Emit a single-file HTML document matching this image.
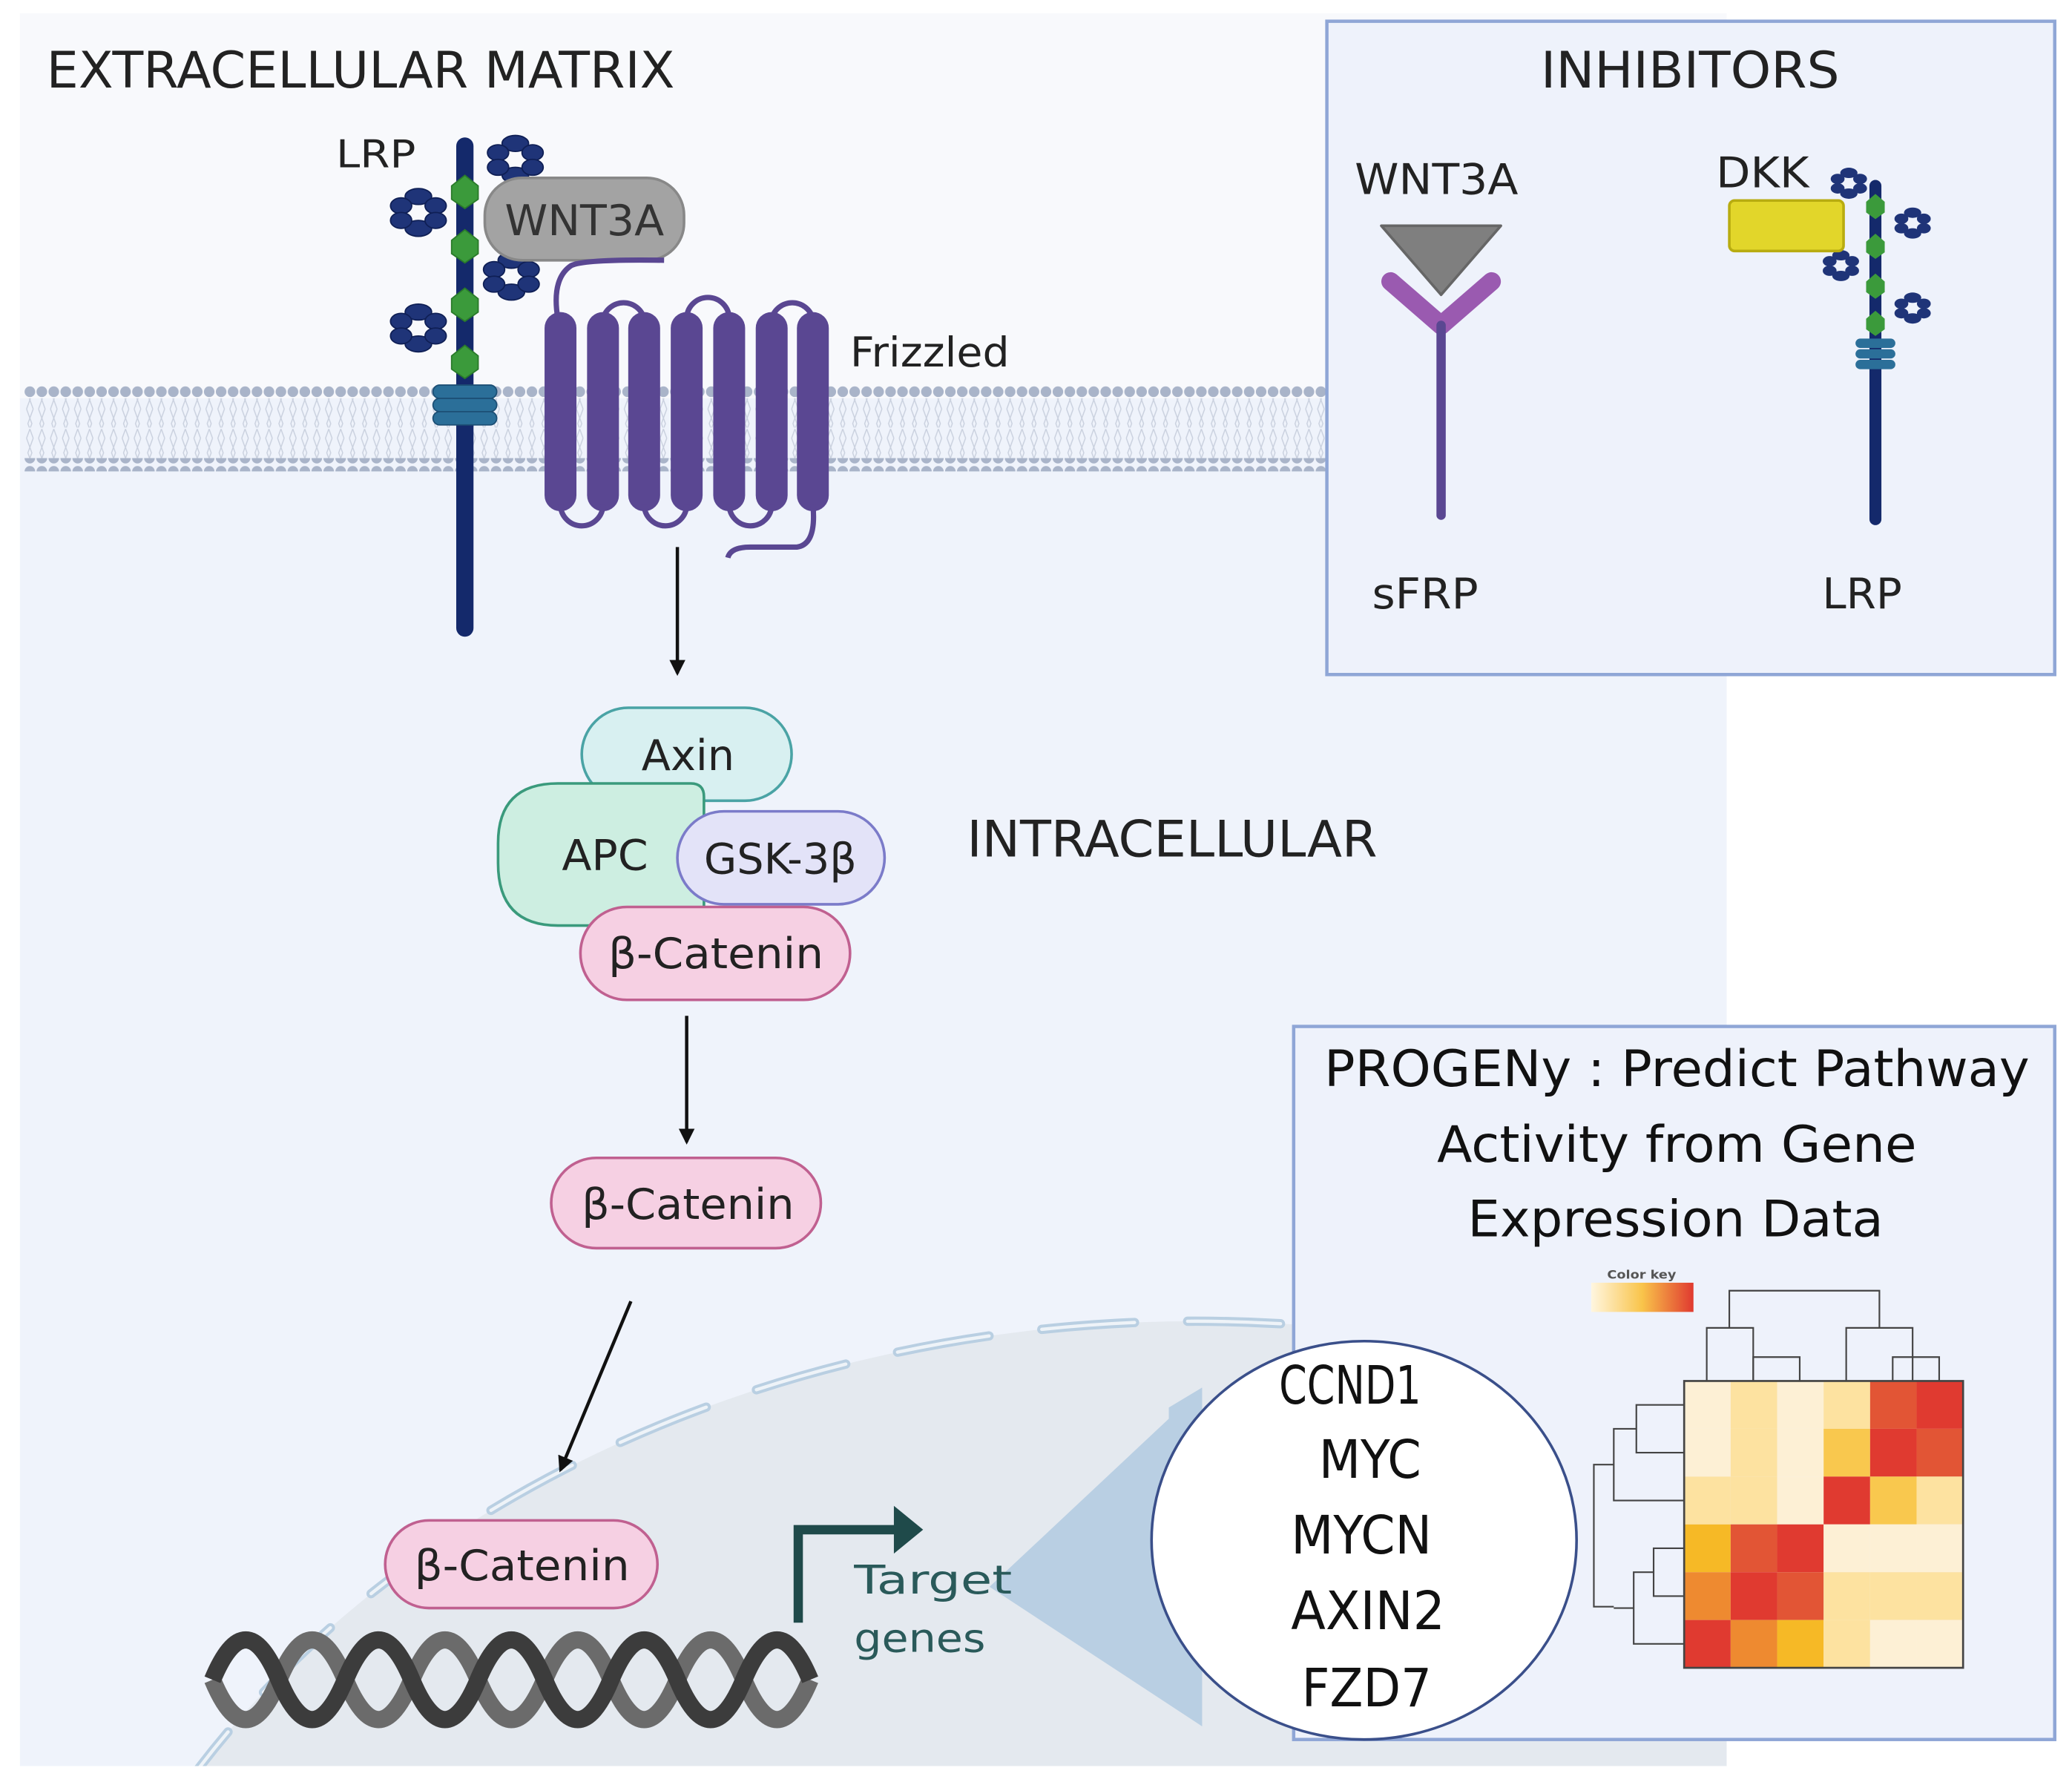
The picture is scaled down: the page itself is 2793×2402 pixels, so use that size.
<!DOCTYPE html>
<html><head><meta charset="utf-8"><style>
html,body{margin:0;padding:0;background:#fff;overflow:hidden;width:2793px;height:2402px;}
svg{display:block;}
text{font-family:"DejaVu Sans","Liberation Sans",sans-serif;}
</style></head><body>
<svg width="2793" height="2402" viewBox="0 0 1560 1342" preserveAspectRatio="none" xmlns="http://www.w3.org/2000/svg">
<defs>
<pattern id="dots" x="18" y="0" width="9" height="10" patternUnits="userSpaceOnUse"><circle cx="4.5" cy="5" r="4" fill="#a9b4c9"/></pattern>
<pattern id="tails" x="18" y="0" width="9" height="22" patternUnits="userSpaceOnUse"><path d="M2 0 L6 11 L2 22 M7 0 L3 11 L7 22" stroke="#c9d0de" stroke-width="0.8" fill="none"/></pattern>
<clipPath id="cell"><rect x="15" y="300" width="1285" height="1030"/></clipPath>
<marker id="ah" markerWidth="12" markerHeight="12" refX="10" refY="6" orient="auto" markerUnits="userSpaceOnUse"><path d="M0 0 L12 6 L0 12Z" fill="#111"/></marker>
</defs>
<rect width="1560" height="1342" fill="#fff"/>
<rect x="15" y="10" width="1285" height="300" fill="#f8f9fc"/>
<rect x="15" y="300" width="1285" height="1030" fill="#eff3fb"/>
<rect x="18" y="300" width="980" height="22" fill="url(#tails)"/>
<rect x="18" y="323" width="980" height="22" fill="url(#tails)"/>
<rect x="18" y="290" width="980" height="10" fill="url(#dots)"/>
<rect x="18" y="345" width="980" height="10" fill="url(#dots)"/>
<g clip-path="url(#cell)">
<ellipse cx="900" cy="1700" rx="880" ry="705" fill="#e4e9ef"/>
<ellipse cx="900" cy="1700" rx="880" ry="705" fill="none" stroke="#b9cfe2" stroke-width="7" stroke-dasharray="70 40" stroke-linecap="round"/>
<ellipse cx="900" cy="1700" rx="880" ry="705" fill="none" stroke="#eef3f8" stroke-width="2.5" stroke-dasharray="70 40" stroke-linecap="round"/>
</g>
<polygon points="745,1195 905,1045 905,1300" fill="#b9cfe3"/>
<text x="35" y="66" font-size="38" fill="#222" textLength="473" lengthAdjust="spacingAndGlyphs">EXTRACELLULAR MATRIX</text>
<text x="253" y="126" font-size="29" fill="#222" textLength="60" lengthAdjust="spacingAndGlyphs">LRP</text>
<line x1="350" y1="110" x2="350" y2="473" stroke="#14296b" stroke-width="13" stroke-linecap="round"/>
<g fill="#3b9a3b" stroke="#2a7a2a" stroke-width="1">
<polygon points="340,140 350,132 360,140 360,150 350,157 340,150"/>
<polygon points="340,181 350,173 360,181 360,191 350,198 340,191"/>
<polygon points="340,225 350,217 360,225 360,235 350,242 340,235"/>
<polygon points="340,268 350,260 360,268 360,278 350,285 340,278"/>
</g>
<g fill="#1f3478" stroke="#0f1f55" stroke-width="1">
<g transform="translate(388,120)"><ellipse cx="0" cy="-12" rx="10" ry="6"/><ellipse cx="0" cy="12" rx="10" ry="6"/><ellipse cx="-13" cy="-5" rx="8" ry="6"/><ellipse cx="13" cy="-5" rx="8" ry="6"/><ellipse cx="-13" cy="6" rx="8" ry="6"/><ellipse cx="13" cy="6" rx="8" ry="6"/></g>
<g transform="translate(315,160)"><ellipse cx="0" cy="-12" rx="10" ry="6"/><ellipse cx="0" cy="12" rx="10" ry="6"/><ellipse cx="-13" cy="-5" rx="8" ry="6"/><ellipse cx="13" cy="-5" rx="8" ry="6"/><ellipse cx="-13" cy="6" rx="8" ry="6"/><ellipse cx="13" cy="6" rx="8" ry="6"/></g>
<g transform="translate(385,208)"><ellipse cx="0" cy="-12" rx="10" ry="6"/><ellipse cx="0" cy="12" rx="10" ry="6"/><ellipse cx="-13" cy="-5" rx="8" ry="6"/><ellipse cx="13" cy="-5" rx="8" ry="6"/><ellipse cx="-13" cy="6" rx="8" ry="6"/><ellipse cx="13" cy="6" rx="8" ry="6"/></g>
<g transform="translate(315,247)"><ellipse cx="0" cy="-12" rx="10" ry="6"/><ellipse cx="0" cy="12" rx="10" ry="6"/><ellipse cx="-13" cy="-5" rx="8" ry="6"/><ellipse cx="13" cy="-5" rx="8" ry="6"/><ellipse cx="-13" cy="6" rx="8" ry="6"/><ellipse cx="13" cy="6" rx="8" ry="6"/></g>
</g>
<g fill="#2b6f99" stroke="#1c4f75" stroke-width="1">
<rect x="326" y="290" width="48" height="10" rx="5"/><rect x="326" y="300" width="48" height="10" rx="5"/><rect x="326" y="310" width="48" height="10" rx="5"/></g>
<rect x="365" y="134" width="150" height="62" rx="28" fill="#a3a3a3" stroke="#888" stroke-width="2"/>
<text x="380" y="177" font-size="32" fill="#333" textLength="120" lengthAdjust="spacingAndGlyphs">WNT3A</text>
<path d="M420 240 Q415 210 430 200 Q440 195 500 196" stroke="#5a4792" stroke-width="4" fill="none"/>
<g fill="#5a4792">
<rect x="410" y="235" width="24" height="150" rx="12"/><rect x="442" y="235" width="24" height="150" rx="12"/>
<rect x="473" y="235" width="24" height="150" rx="12"/><rect x="505" y="235" width="24" height="150" rx="12"/>
<rect x="537" y="235" width="24" height="150" rx="12"/><rect x="569" y="235" width="24" height="150" rx="12"/>
<rect x="600" y="235" width="24" height="150" rx="12"/>
</g>
<g stroke="#5a4792" stroke-width="4" fill="none">
<path d="M454 240 A16 16 0 0 1 485 240"/><path d="M517 240 A16 16 0 0 1 549 240"/><path d="M581 240 A16 16 0 0 1 612 240"/>
<path d="M422 380 A16 16 0 0 0 454 380"/><path d="M485 380 A16 16 0 0 0 517 380"/><path d="M549 380 A16 16 0 0 0 581 380"/>
<path d="M612 380 Q615 410 600 412 L565 412 Q550 412 548 420"/>
</g>
<text x="640" y="276" font-size="31" fill="#222" textLength="120" lengthAdjust="spacingAndGlyphs">Frizzled</text>
<line x1="510" y1="412" x2="510" y2="507" stroke="#111" stroke-width="2.5" marker-end="url(#ah)"/>
<rect x="438" y="533" width="158" height="70" rx="35" fill="#d8f0f1" stroke="#4aa3a5" stroke-width="2"/>
<text x="483" y="580" font-size="32" fill="#222" textLength="70" lengthAdjust="spacingAndGlyphs">Axin</text>
<path d="M420 590 L520 590 Q530 590 530 600 L530 697 L420 697 Q375 697 375 650 L375 635 Q375 590 420 590Z" fill="#cdeee1" stroke="#3a9a7c" stroke-width="2"/>
<text x="423" y="655" font-size="32" fill="#222" textLength="65" lengthAdjust="spacingAndGlyphs">APC</text>
<rect x="510" y="611" width="156" height="70" rx="35" fill="#e3e3f8" stroke="#7b7bc9" stroke-width="2"/>
<text x="530" y="658" font-size="32" fill="#222" textLength="115" lengthAdjust="spacingAndGlyphs">GSK-3β</text>
<rect x="437" y="683" width="203" height="70" rx="35" fill="#f6d0e3" stroke="#c06090" stroke-width="2"/>
<text x="458" y="729" font-size="32" fill="#222" textLength="162" lengthAdjust="spacingAndGlyphs">β-Catenin</text>
<text x="728" y="645" font-size="38" fill="#222" textLength="309" lengthAdjust="spacingAndGlyphs">INTRACELLULAR</text>
<line x1="517" y1="765" x2="517" y2="860" stroke="#111" stroke-width="2.5" marker-end="url(#ah)"/>
<rect x="415" y="872" width="203" height="68" rx="34" fill="#f6d0e3" stroke="#c06090" stroke-width="2"/>
<text x="438" y="918" font-size="32" fill="#222" textLength="160" lengthAdjust="spacingAndGlyphs">β-Catenin</text>
<line x1="475" y1="980" x2="422" y2="1107" stroke="#111" stroke-width="2.5" marker-end="url(#ah)"/>
<rect x="290" y="1145" width="205" height="66" rx="33" fill="#f6d0e3" stroke="#c06090" stroke-width="2"/>
<text x="312" y="1190" font-size="32" fill="#222" textLength="162" lengthAdjust="spacingAndGlyphs">β-Catenin</text>
<path d="M160 1265 q25,60 50,0 t50,0 t50,0 t50,0 t50,0 t50,0 t50,0 t50,0 t50,0" stroke="#6b6b6b" stroke-width="13" fill="none"/>
<path d="M160 1265 q25,-60 50,0 t50,0 t50,0 t50,0 t50,0 t50,0 t50,0 t50,0 t50,0" stroke="#3c3c3c" stroke-width="13" fill="none"/>
<path d="M601 1222 L601 1152 L680 1152" stroke="#1f4a4a" stroke-width="7" fill="none"/>
<path d="M673 1134 L695 1152 L673 1170Z" fill="#1f4a4a"/>
<text x="643" y="1200" font-size="30" fill="#2a5a5a" font-family="Liberation Mono,monospace" textLength="119" lengthAdjust="spacingAndGlyphs">Target</text>
<text x="643" y="1244" font-size="30" fill="#2a5a5a" font-family="Liberation Mono,monospace" textLength="99" lengthAdjust="spacingAndGlyphs">genes</text>
<rect x="999" y="16" width="548" height="492" fill="#eef2fb" stroke="#8fa6d6" stroke-width="2.5"/>
<text x="1160" y="66" font-size="38" fill="#222" textLength="225" lengthAdjust="spacingAndGlyphs">INHIBITORS</text>
<text x="1020" y="146" font-size="32" fill="#222" textLength="123" lengthAdjust="spacingAndGlyphs">WNT3A</text>
<polygon points="1040,170 1130,170 1085,222" fill="#7f7f7f" stroke="#666" stroke-width="2" stroke-linejoin="round"/>
<path d="M1047 212 L1085 245 L1123 212" stroke="#9a5ab0" stroke-width="14" fill="none" stroke-linecap="round" stroke-linejoin="round"/>
<line x1="1085" y1="245" x2="1085" y2="388" stroke="#5a4792" stroke-width="7" stroke-linecap="round"/>
<text x="1033" y="458" font-size="32" fill="#222" textLength="80" lengthAdjust="spacingAndGlyphs">sFRP</text>
<text x="1292" y="141" font-size="32" fill="#222" textLength="70" lengthAdjust="spacingAndGlyphs">DKK</text>
<line x1="1412" y1="140" x2="1412" y2="391" stroke="#14296b" stroke-width="9" stroke-linecap="round"/>
<g fill="#3b9a3b"><polygon points="1405,152 1412,146 1419,152 1419,160 1412,165 1405,160"/><polygon points="1405,182 1412,176 1419,182 1419,190 1412,195 1405,190"/><polygon points="1405,212 1412,206 1419,212 1419,220 1412,225 1405,220"/><polygon points="1405,240 1412,234 1419,240 1419,248 1412,253 1405,248"/></g>
<g fill="#1f3478">
<g transform="translate(1392,138) scale(0.65)"><ellipse cx="0" cy="-12" rx="10" ry="6"/><ellipse cx="0" cy="12" rx="10" ry="6"/><ellipse cx="-13" cy="-5" rx="8" ry="6"/><ellipse cx="13" cy="-5" rx="8" ry="6"/><ellipse cx="-13" cy="6" rx="8" ry="6"/><ellipse cx="13" cy="6" rx="8" ry="6"/></g>
<g transform="translate(1440,168) scale(0.65)"><ellipse cx="0" cy="-12" rx="10" ry="6"/><ellipse cx="0" cy="12" rx="10" ry="6"/><ellipse cx="-13" cy="-5" rx="8" ry="6"/><ellipse cx="13" cy="-5" rx="8" ry="6"/><ellipse cx="-13" cy="6" rx="8" ry="6"/><ellipse cx="13" cy="6" rx="8" ry="6"/></g>
<g transform="translate(1386,200) scale(0.65)"><ellipse cx="0" cy="-12" rx="10" ry="6"/><ellipse cx="0" cy="12" rx="10" ry="6"/><ellipse cx="-13" cy="-5" rx="8" ry="6"/><ellipse cx="13" cy="-5" rx="8" ry="6"/><ellipse cx="-13" cy="6" rx="8" ry="6"/><ellipse cx="13" cy="6" rx="8" ry="6"/></g>
<g transform="translate(1440,232) scale(0.65)"><ellipse cx="0" cy="-12" rx="10" ry="6"/><ellipse cx="0" cy="12" rx="10" ry="6"/><ellipse cx="-13" cy="-5" rx="8" ry="6"/><ellipse cx="13" cy="-5" rx="8" ry="6"/><ellipse cx="-13" cy="6" rx="8" ry="6"/><ellipse cx="13" cy="6" rx="8" ry="6"/></g>
</g>
<rect x="1302" y="151" width="86" height="38" rx="4" fill="#e2d62a" stroke="#b8ac10" stroke-width="2"/>
<g fill="#2b6f99"><rect x="1397" y="255" width="30" height="7" rx="3.5"/><rect x="1397" y="263" width="30" height="7" rx="3.5"/><rect x="1397" y="271" width="30" height="7" rx="3.5"/></g>
<text x="1372" y="458" font-size="32" fill="#222" textLength="60" lengthAdjust="spacingAndGlyphs">LRP</text>
<rect x="974" y="773" width="573" height="537" fill="#eef2fb" stroke="#8fa6d6" stroke-width="2.5"/>
<text x="997" y="818" font-size="38" fill="#111" textLength="531" lengthAdjust="spacingAndGlyphs">PROGENy : Predict Pathway</text>
<text x="1082" y="875" font-size="38" fill="#111" textLength="361" lengthAdjust="spacingAndGlyphs">Activity from Gene</text>
<text x="1105" y="931" font-size="38" fill="#111" textLength="313" lengthAdjust="spacingAndGlyphs">Expression Data</text>
<text x="1210" y="963" font-size="9" fill="#555" font-weight="bold" textLength="52" lengthAdjust="spacingAndGlyphs">Color key</text>
<defs><linearGradient id="ck"><stop offset="0" stop-color="#fff6e0"/><stop offset="0.5" stop-color="#f9c44a"/><stop offset="1" stop-color="#e03a30"/></linearGradient></defs>
<rect x="1198" y="966" width="77" height="22" fill="url(#ck)"/>
<polygon points="880,1060 905,1045 905,1300 880,1280" fill="#b9cfe3"/>
<ellipse cx="1027" cy="1160" rx="160" ry="150" fill="#fff" stroke="#3a4f8a" stroke-width="2"/>
<g font-size="40" fill="#111">
<text x="963" y="1057" textLength="107" lengthAdjust="spacingAndGlyphs">CCND1</text>
<text x="993" y="1113" textLength="77" lengthAdjust="spacingAndGlyphs">MYC</text>
<text x="972" y="1170" textLength="106" lengthAdjust="spacingAndGlyphs">MYCN</text>
<text x="972" y="1227" textLength="116" lengthAdjust="spacingAndGlyphs">AXIN2</text>
<text x="980" y="1285" textLength="98" lengthAdjust="spacingAndGlyphs">FZD7</text></g>
<g>
<rect x="1268" y="1040" width="35" height="36" fill="#fdf0d5"/><rect x="1303" y="1040" width="35" height="36" fill="#fde2a0"/><rect x="1338" y="1040" width="35" height="36" fill="#fdf0d5"/><rect x="1373" y="1040" width="35" height="36" fill="#fde2a0"/><rect x="1408" y="1040" width="35" height="36" fill="#e25535"/><rect x="1443" y="1040" width="35" height="36" fill="#e03a30"/>
<rect x="1268" y="1076" width="35" height="36" fill="#fdf0d5"/><rect x="1303" y="1076" width="35" height="36" fill="#fde2a0"/><rect x="1338" y="1076" width="35" height="36" fill="#fdf0d5"/><rect x="1373" y="1076" width="35" height="36" fill="#f9c84e"/><rect x="1408" y="1076" width="35" height="36" fill="#e03a30"/><rect x="1443" y="1076" width="35" height="36" fill="#e25535"/>
<rect x="1268" y="1112" width="35" height="36" fill="#fde2a0"/><rect x="1303" y="1112" width="35" height="36" fill="#fde2a0"/><rect x="1338" y="1112" width="35" height="36" fill="#fdf0d5"/><rect x="1373" y="1112" width="35" height="36" fill="#e03a30"/><rect x="1408" y="1112" width="35" height="36" fill="#f9c84e"/><rect x="1443" y="1112" width="35" height="36" fill="#fde2a0"/>
<rect x="1268" y="1148" width="35" height="36" fill="#f6b926"/><rect x="1303" y="1148" width="35" height="36" fill="#e25535"/><rect x="1338" y="1148" width="35" height="36" fill="#e03a30"/><rect x="1373" y="1148" width="35" height="36" fill="#fdf0d5"/><rect x="1408" y="1148" width="35" height="36" fill="#fdf0d5"/><rect x="1443" y="1148" width="35" height="36" fill="#fdf0d5"/>
<rect x="1268" y="1184" width="35" height="36" fill="#ee8a30"/><rect x="1303" y="1184" width="35" height="36" fill="#e03a30"/><rect x="1338" y="1184" width="35" height="36" fill="#e25535"/><rect x="1373" y="1184" width="35" height="36" fill="#fde2a0"/><rect x="1408" y="1184" width="35" height="36" fill="#fde2a0"/><rect x="1443" y="1184" width="35" height="36" fill="#fde2a0"/>
<rect x="1268" y="1220" width="35" height="36" fill="#e03a30"/><rect x="1303" y="1220" width="35" height="36" fill="#ee8a30"/><rect x="1338" y="1220" width="35" height="36" fill="#f6b926"/><rect x="1373" y="1220" width="35" height="36" fill="#fde2a0"/><rect x="1408" y="1220" width="35" height="36" fill="#fdf0d5"/><rect x="1443" y="1220" width="35" height="36" fill="#fdf0d5"/>
<rect x="1268" y="1040" width="210" height="216" fill="none" stroke="#444" stroke-width="1.5"/>
</g>
<g stroke="#444" stroke-width="1.2" fill="none">
<path d="M1285 1040 V1000 H1320 V1040"/><path d="M1320 1040 V1022 H1355 V1040"/><path d="M1302 1000 V972 H1415 V1000"/>
<path d="M1390 1040 V1000 H1440 V1040"/><path d="M1425 1040 V1022 H1460 V1040"/>
<path d="M1268 1058 H1232 V1094 H1268"/><path d="M1232 1076 H1215 V1130 H1268"/><path d="M1215 1103 H1200 V1210 H1215"/>
<path d="M1268 1166 H1245 V1202 H1268"/><path d="M1245 1184 H1230 V1238 H1268"/><path d="M1230 1211 H1215"/>
</g>
</svg>
</body></html>
